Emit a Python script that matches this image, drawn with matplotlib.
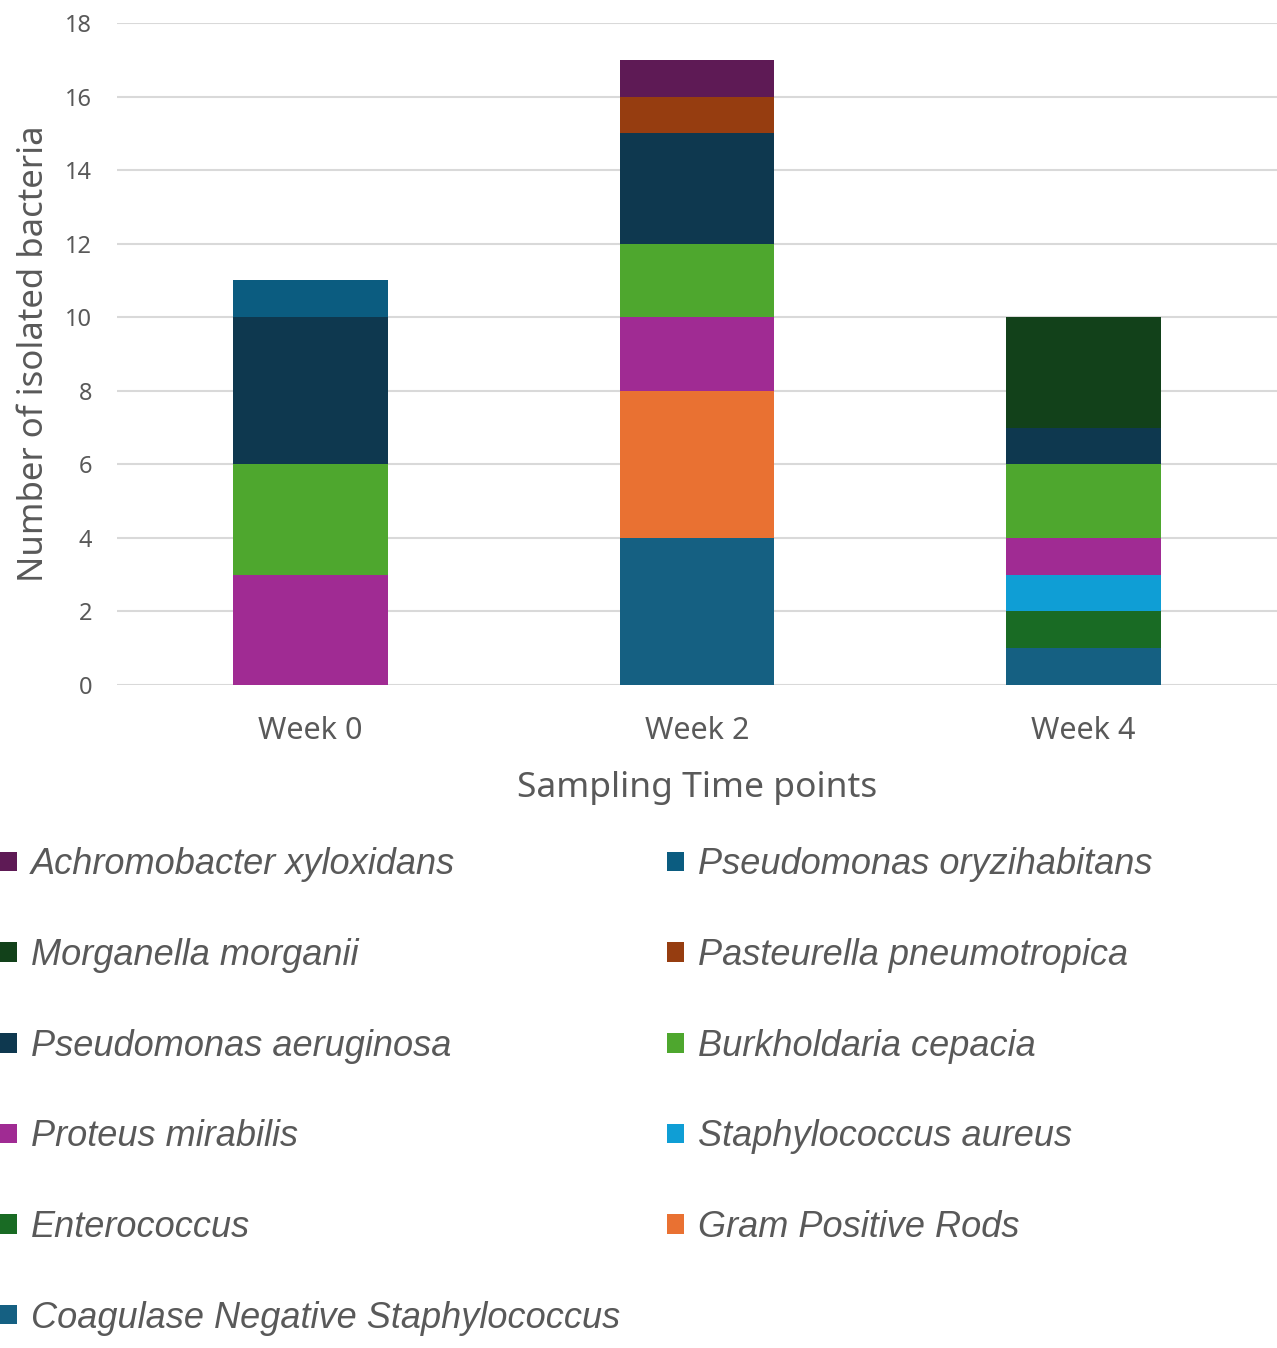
import matplotlib
matplotlib.use('Agg')
import matplotlib.pyplot as plt
import numpy as np

weeks = ['Week 0', 'Week 2', 'Week 4']

# stacked from the bottom up
species = ['Coagulase Negative Staphylococcus', 'Gram Positive Rods', 'Enterococcus',
           'Staphylococcus aureus', 'Proteus mirabilis', 'Burkholdaria cepacia',
           'Pseudomonas aeruginosa', 'Pasteurella pneumotropica', 'Morganella morganii',
           'Pseudomonas oryzihabitans', 'Achromobacter xyloxidans']
cons = [0, 4, 1]
gpr = [0, 4, 0]
entero = [0, 0, 1]
staph_aureus = [0, 0, 1]
proteus = [3, 2, 1]
burkholdaria = [3, 2, 2]
ps_aeruginosa = [4, 3, 1]
pasteurella = [0, 1, 0]
morganella = [0, 0, 3]
ps_oryzihabitans = [1, 0, 0]
achromobacter = [0, 1, 0]
counts = [cons, gpr, entero, staph_aureus, proteus, burkholdaria, ps_aeruginosa,
          pasteurella, morganella, ps_oryzihabitans, achromobacter]

colors = ['#156082', '#e97132', '#196b24', '#0f9ed5', '#a02b93', '#4ea72e',
          '#0e384f', '#963d10', '#12411a', '#0b5c80', '#5e1a55']

txt = '#595959'

fig = plt.figure(figsize=(12.77, 13.48), dpi=100)
ax = fig.add_axes([117 / 1277, 1 - 685 / 1348, 1 - 117 / 1277, (685 - 23) / 1348])

x = np.arange(len(weeks))
bottom = np.zeros(len(weeks))
handles = []
for name, vals, c in zip(species, counts, colors):
    b = ax.bar(x, vals, width=0.40, bottom=bottom, color=c, label=name, zorder=3)
    handles.append(b)
    bottom += np.array(vals)

ax.set_xlim(-0.5, 2.5)
ax.set_ylim(0, 18)
ax.set_yticks(range(0, 19, 2))
ax.grid(axis='y', color='#d9d9d9', linewidth=1.5, zorder=0)
for s in ax.spines.values():
    s.set_visible(False)
ax.tick_params(length=0)
ax.tick_params(axis='y', labelsize=17, labelcolor=txt, pad=18)
ax.tick_params(axis='x', labelsize=22, labelcolor=txt, pad=22)
ax.set_xticks(x)
ax.set_xticklabels(weeks)
for lab in ax.get_xticklabels() + ax.get_yticklabels():
    lab.set_fontfamily('Noto Sans')

ax.set_xlabel('Sampling Time points', fontsize=25.5, color=txt, family='Noto Sans', labelpad=18)
ax.set_ylabel('Number of isolated bacteria', fontsize=25, color=txt, family='Noto Sans', labelpad=10)

# legend reads row by row, top series first
order = handles[::-1]
left = order[0::2]
right = order[1::2]
leg_handles = left + right
leg = fig.legend(handles=leg_handles, labels=[h.get_label() for h in leg_handles],
                 ncol=2, loc='upper left', bbox_to_anchor=(-0.011, 1 - 833 / 1348),
                 borderaxespad=0, frameon=False, handlelength=0.45, handleheight=0.45,
                 handletextpad=0.4, labelspacing=1.54, columnspacing=1.3,
                 prop={'family': 'Liberation Sans', 'style': 'italic', 'size': 26})
for t in leg.get_texts():
    t.set_color(txt)

fig.savefig('out.png', dpi=100)
